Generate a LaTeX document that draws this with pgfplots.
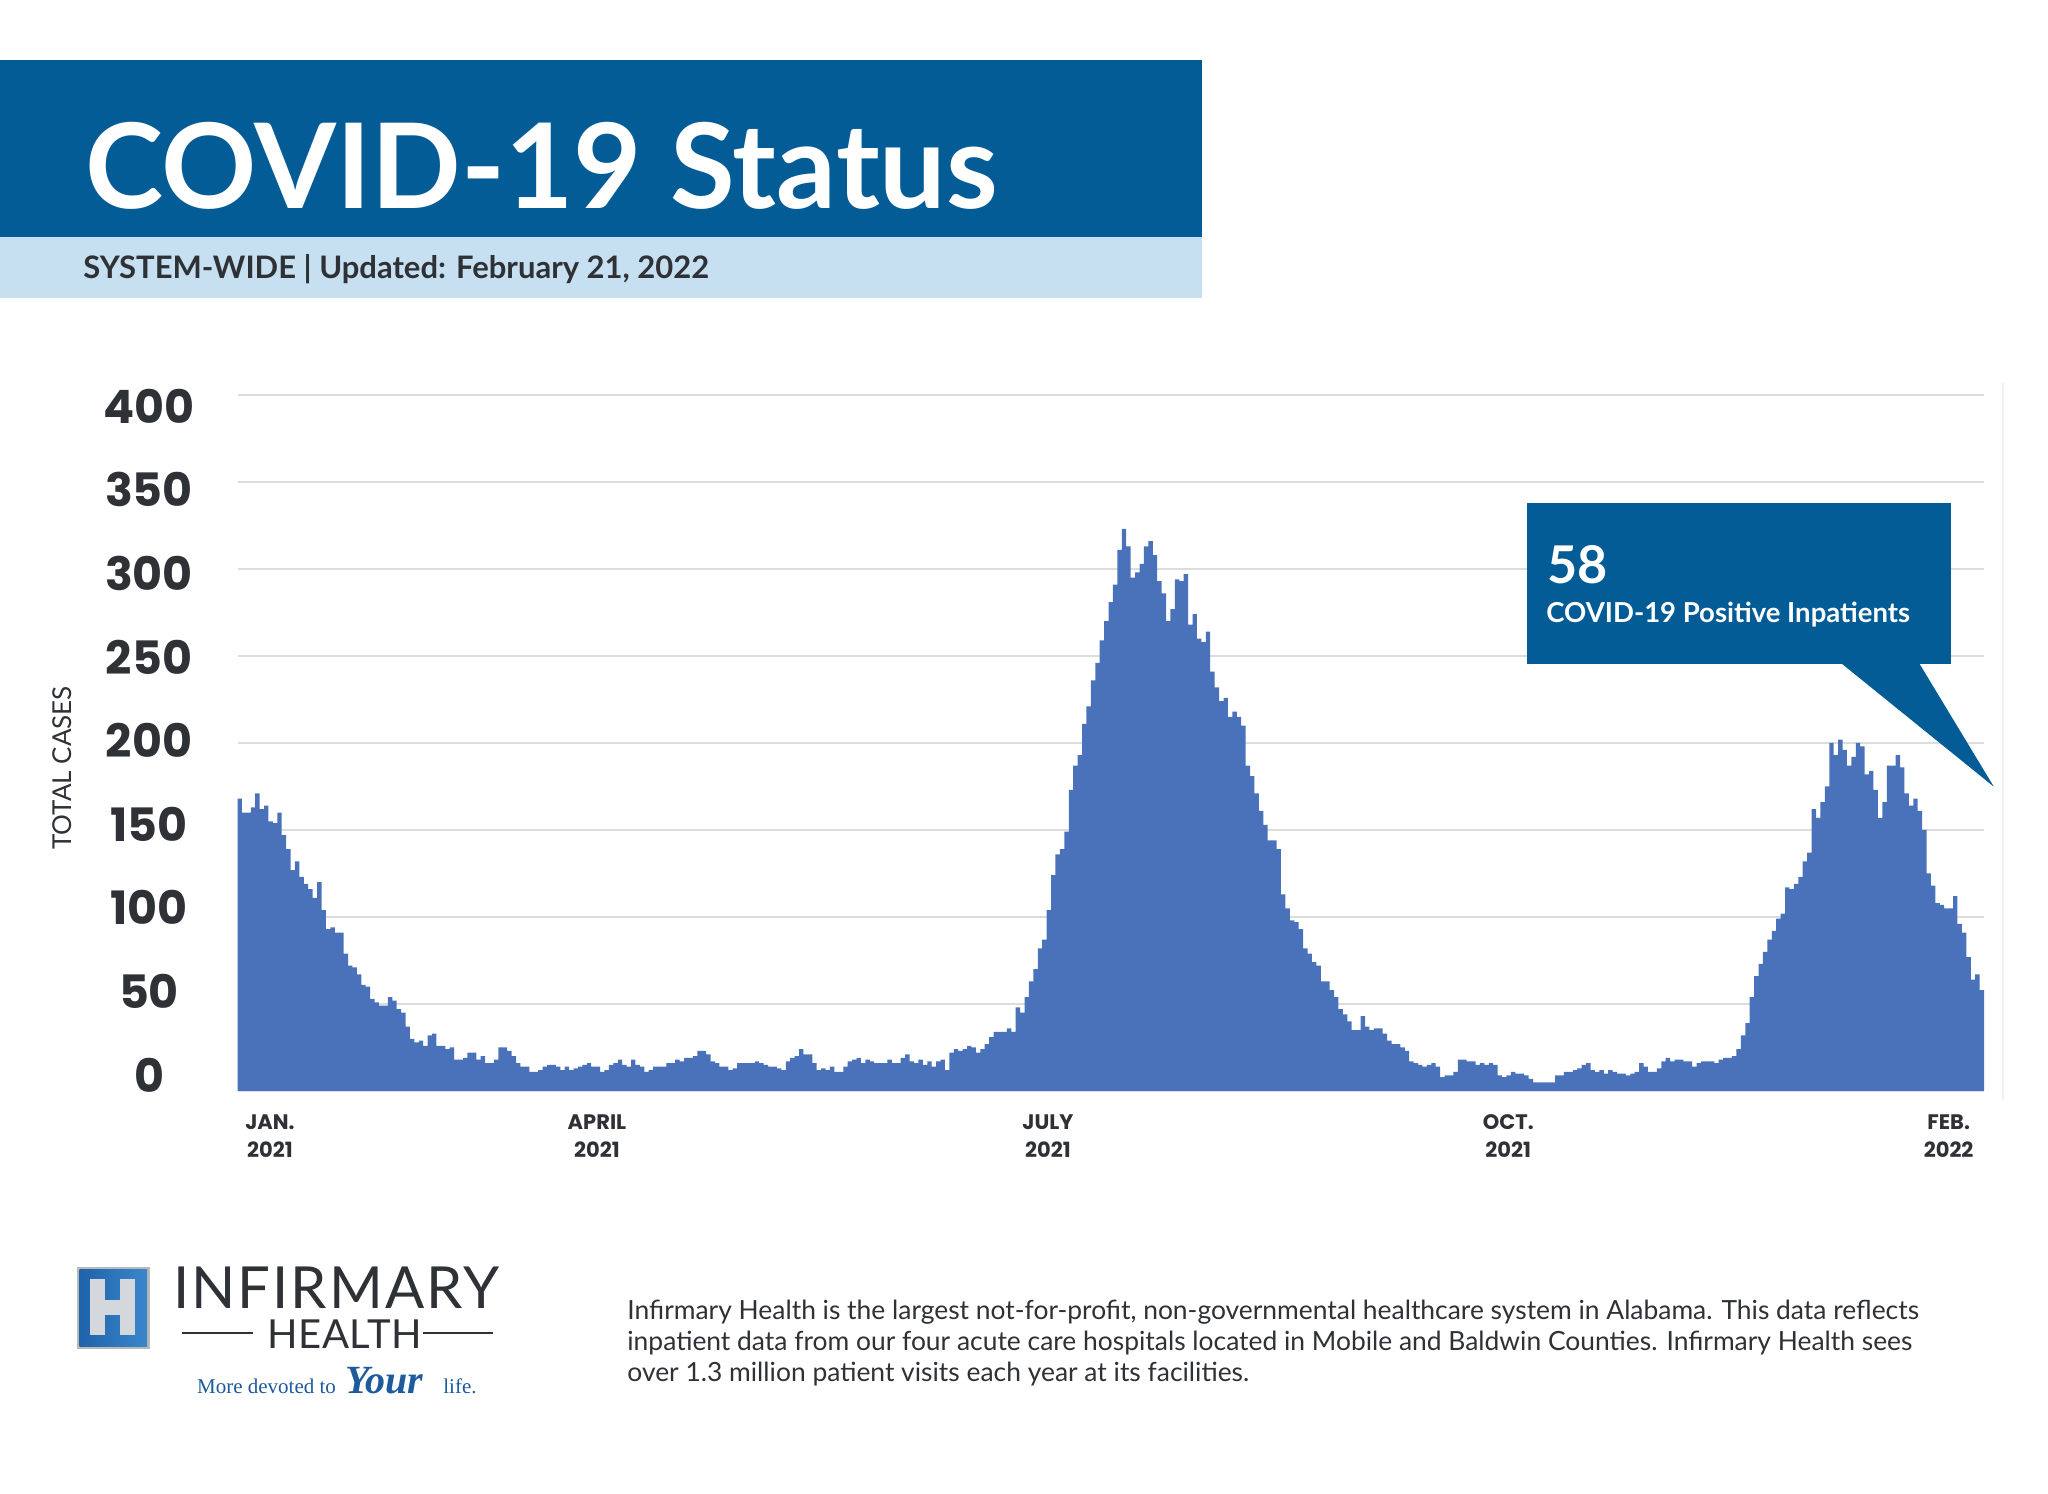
\documentclass[border=0pt]{standalone}
\usepackage{fontspec}
\setmainfont{Lato}
\newfontfamily\poppins{Poppins}
\newfontfamily\tagserif{Liberation Serif}
\newfontfamily\logofontA{Lato}[LetterSpace=3.4]
\newfontfamily\logofontB{Lato}[LetterSpace=1.7]
\usepackage{pgfplots}
\pgfplotsset{compat=1.18}
\usepackage{pgfplotstable}
\definecolor{hdrblue}{HTML}{045C96}
\definecolor{lightband}{HTML}{C6DFF1}
\definecolor{barblue}{HTML}{4A72BB}
\definecolor{gridgray}{HTML}{DCDCDC}
\definecolor{txt}{HTML}{2E3135}
\definecolor{tagblue}{HTML}{1D5B9C}
\definecolor{logoblue}{HTML}{1F63AA}
\definecolor{logoblue2}{HTML}{3A86CC}
\definecolor{silver}{HTML}{D4D8DC}

% daily COVID-19 positive inpatients (one value per day)
\pgfplotstableread[row sep=\\]{
v\\
168\\ 160\\ 160\\ 163\\ 171\\ 162\\ 164\\ 155\\ 154\\ 160\\
147\\ 139\\ 127\\ 132\\ 123\\ 119\\ 116\\ 111\\ 120\\ 104\\
93\\ 94\\ 91\\ 91\\ 79\\ 72\\ 71\\ 67\\ 61\\ 60\\
53\\ 51\\ 49\\ 49\\ 54\\ 52\\ 47\\ 45\\ 37\\ 30\\
28\\ 29\\ 26\\ 32\\ 33\\ 26\\ 26\\ 24\\ 25\\ 18\\
18\\ 19\\ 22\\ 22\\ 18\\ 20\\ 16\\ 16\\ 18\\ 25\\
25\\ 23\\ 20\\ 16\\ 14\\ 14\\ 11\\ 11\\ 12\\ 14\\
15\\ 15\\ 14\\ 12\\
14\\ 12\\ 13\\ 14\\ 15\\ 16\\ 14\\ 14\\ 11\\ 12\\
15\\ 16\\ 18\\ 15\\ 14\\ 18\\ 15\\ 14\\ 11\\ 12\\
14\\ 14\\ 14\\ 16\\ 16\\ 18\\ 17\\ 19\\ 19\\ 20\\
23\\ 23\\ 21\\ 17\\ 16\\ 14\\ 14\\ 12\\ 13\\ 16\\
16\\ 16\\ 16\\ 17\\ 16\\ 15\\ 14\\ 14\\ 13\\ 12\\
17\\ 19\\ 20\\ 24\\ 21\\ 21\\ 16\\ 12\\ 13\\ 12\\
14\\ 11\\ 11\\ 14\\ 17\\ 18\\ 19\\ 16\\ 18\\ 17\\
16\\ 16\\ 16\\ 18\\ 16\\ 16\\ 19\\ 21\\ 17\\ 16\\
18\\ 15\\ 17\\ 14\\ 17\\ 18\\ 12\\ 22\\ 24\\ 23\\
24\\ 26\\ 25\\ 22\\ 24\\ 27\\ 31\\ 34\\ 34\\ 34\\
36\\ 34\\ 48\\ 45\\ 54\\
63\\ 70\\ 82\\ 87\\ 104\\ 124\\ 136\\ 139\\ 149\\ 173\\
187\\ 193\\ 211\\ 221\\ 236\\ 246\\ 259\\ 270\\ 281\\ 291\\
311\\ 323\\ 313\\ 295\\ 298\\ 303\\ 313\\ 316\\ 308\\ 293\\
286\\ 270\\ 277\\ 294\\ 293\\ 297\\ 268\\ 274\\ 260\\ 258\\
264\\ 241\\ 232\\ 224\\ 226\\ 215\\ 218\\ 215\\ 210\\ 187\\
181\\ 171\\ 161\\ 153\\ 144\\ 144\\ 139\\ 113\\ 105\\ 98\\
97\\ 93\\ 82\\
79\\ 74\\ 72\\ 63\\ 63\\ 58\\ 54\\ 47\\ 44\\ 40\\
35\\ 35\\ 43\\ 37\\ 35\\ 36\\ 36\\ 33\\ 29\\ 27\\
27\\ 25\\ 23\\ 17\\ 16\\ 15\\ 14\\ 15\\ 16\\ 14\\
8\\ 9\\ 9\\ 11\\ 18\\ 18\\ 17\\ 17\\ 15\\ 16\\
15\\ 16\\ 15\\ 9\\ 8\\ 9\\ 11\\ 10\\ 10\\ 9\\
7\\ 5\\ 5\\ 5\\ 5\\ 5\\ 9\\ 9\\ 11\\ 11\\
12\\ 13\\ 15\\ 16\\ 12\\ 11\\ 12\\ 10\\ 12\\ 11\\
10\\ 10\\ 9\\ 10\\ 11\\ 16\\ 14\\ 11\\ 11\\ 13\\
17\\ 19\\ 17\\ 18\\ 18\\ 17\\ 17\\ 14\\ 16\\
17\\ 17\\ 17\\ 16\\ 18\\ 19\\ 19\\ 20\\ 24\\ 32\\
39\\ 54\\ 66\\ 73\\ 80\\ 87\\ 92\\ 99\\ 102\\ 117\\
116\\ 119\\ 123\\ 132\\ 137\\ 162\\ 157\\ 166\\ 175\\ 200\\
193\\ 202\\ 196\\ 187\\ 192\\ 200\\ 198\\ 182\\ 184\\ 173\\
157\\ 166\\ 187\\ 187\\ 193\\ 186\\ 171\\ 164\\ 168\\ 161\\
150\\ 125\\ 118\\ 108\\ 107\\ 105\\ 105\\ 112\\ 96\\ 91\\
77\\ 64\\ 67\\ 58\\
58\\
}\inpatients

\begin{document}
\begin{tikzpicture}[x=0.5pt,y=0.5pt]
\fill[white] (0,0) rectangle (2048,1493);
\useasboundingbox (0,0) rectangle (2048,1493);

% header
\fill[hdrblue] (0,1433) rectangle (1202,1256);
\fill[lightband] (0,1256) rectangle (1202,1195);
\node[anchor=base west, inner sep=0pt, text=white,
      font=\bfseries\fontsize{59}{70}\selectfont] at (85,1284) {COVID-19 Status};
\node[anchor=base west, inner sep=0pt, text=txt,
      font=\bfseries\fontsize{15.5}{18}\selectfont] at (83,1214)
      {SYSTEM-WIDE | Updated: February 21, 2022};

% faint right border
\draw[black!6, line width=0.8pt] (2003,1110) -- (2003,393);

\begin{axis}[
  at={(118.75pt,201pt)}, anchor=south west,
  scale only axis, width=873.25pt, height=348pt,
  xmin=0, xmax=395, ymin=0, ymax=400,
  axis line style={draw=none},
  major tick length=0pt,
  clip=false,
  /pgf/number format/assume math mode=true,
  ytick={9.2,57.2,105.3,153.3,201.4,249.4,297.5,345.5,393.6},
  yticklabels={0,50,100,150,200,250,300,350,400},
  yticklabel style={anchor=center, xshift=-44.25pt, text=txt,
      font=\poppins\bfseries\fontsize{23}{28}\selectfont},
  xtick={7.35,81.3,183.3,287.4,387.0},
  xticklabels={{JAN.\\2021},{APRIL\\2021},{JULY\\2021},{OCT.\\2021},{FEB.\\2022}},
  xticklabel style={align=center, anchor=north, inner sep=0pt, yshift=-11.5pt, text=txt,
      font=\poppins\bfseries\fontsize{10.5}{14}\selectfont},
  extra y ticks={0,50,...,400},
  extra y tick labels={},
  extra y tick style={grid=major},
  major grid style={gridgray, line width=1pt},
  ylabel={TOTAL CASES},
  ylabel style={at={(axis description cs:-0.1002,0.464)}, anchor=center, text=txt,
      font=\fontsize{13}{15}\selectfont},
]
\addplot[const plot, fill=barblue, draw=none] table[x expr=\coordindex, y=v] {\inpatients} \closedcycle;
\end{axis}

% callout
\fill[hdrblue] (1527.4,990) rectangle (1950.5,829);
\fill[hdrblue] (1841.5,829.5) -- (1919.3,829.5) -- (1993.8,706.3) -- cycle;
\node[anchor=base west, inner sep=0pt, text=white,
      font=\bfseries\fontsize{26}{30}\selectfont] at (1547,909) {58};
\node[anchor=base west, inner sep=0pt, text=white,
      font=\bfseries\fontsize{13.75}{16}\selectfont] at (1546,870) {COVID-19 Positive Inpatients};

% logo
\fill[gray!55] (76.7,226.3) rectangle (150,144);
\shade[left color=logoblue, right color=logoblue2] (79.5,223.5) rectangle (147.2,146.8);
\fill[silver] (90,213.7) rectangle (105,158);
\fill[silver] (120,213.7) rectangle (135,158);
\fill[silver] (104,193) rectangle (121,178);
\node[anchor=base west, inner sep=0pt, text=txt,
      font=\logofontA\fontsize{29}{34}\selectfont] at (173,185) {INFIRMARY};
\node[anchor=base west, inner sep=0pt, text=txt,
      font=\logofontB\fontsize{20}{24}\selectfont] at (266.7,145) {HEALTH};
\draw[txt, line width=1.1pt] (181.7,160) -- (253,160);
\draw[txt, line width=1.1pt] (423,160) -- (493,160);
\node[anchor=base west, inner sep=0pt, text=tagblue,
      font=\tagserif\fontsize{10.5}{12}\selectfont] at (196.7,100) {More devoted to};
\node[anchor=base west, inner sep=0pt, text=tagblue,
      font=\tagserif\bfseries\itshape\fontsize{20}{22}\selectfont] at (345,100) {Your};
\node[anchor=base west, inner sep=0pt, text=tagblue,
      font=\tagserif\fontsize{10.5}{12}\selectfont] at (443,100) {life.};

% footnote paragraph
\begin{scope}[every node/.style={anchor=base west, inner sep=0pt, text=txt,
      font=\fontsize{13.2}{15}\selectfont}]
\node at (627,174) {Infirmary Health is the largest not-for-profit, non-governmental healthcare system in Alabama. This data reflects};
\node at (627,143) {inpatient data from our four acute care hospitals located in Mobile and Baldwin Counties. Infirmary Health sees};
\node at (627,112) {over 1.3 million patient visits each year at its facilities.};
\end{scope}
\end{tikzpicture}
\end{document}
